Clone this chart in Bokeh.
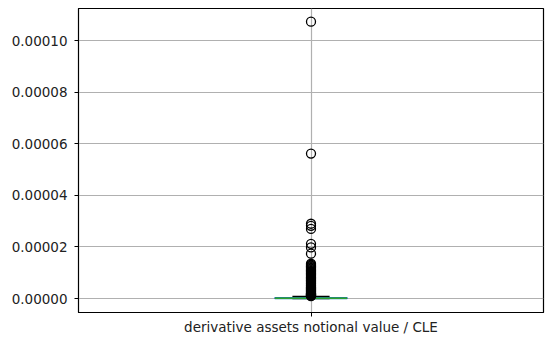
from bokeh.plotting import figure
from bokeh.models import Range1d, FixedTicker, NumeralTickFormatter, ColumnDataSource
from bokeh.embed import file_html
from bokeh.resources import INLINE

category = "derivative assets notional value / CLE"
# box statistics
q1 = [0.0]
median = [0.0000001]
q3 = [0.0000003]
whisker_low = [0.0]
whisker_high = [0.0000008]
# outliers
outliers = [
    0.0000010, 0.0000011, 0.0000012, 0.0000013, 0.0000014, 0.0000015, 0.0000016,
    0.0000017, 0.0000018, 0.0000019, 0.0000020, 0.0000022, 0.0000024, 0.0000026,
    0.0000028, 0.0000030, 0.0000032, 0.0000034, 0.0000036, 0.0000038, 0.0000040,
    0.0000042, 0.0000044, 0.0000047, 0.0000050, 0.0000053, 0.0000056, 0.0000059,
    0.0000062, 0.0000065, 0.0000068, 0.0000071, 0.0000074, 0.0000077, 0.0000080,
    0.0000083, 0.0000086, 0.0000089, 0.0000092, 0.0000095, 0.0000098, 0.0000101,
    0.0000104, 0.0000107, 0.0000110, 0.0000113, 0.0000116, 0.0000119, 0.0000122,
    0.0000125, 0.0000128, 0.0000131, 0.0000135,
    0.0000174, 0.0000198, 0.0000212, 0.0000270, 0.0000282, 0.0000290,
    0.0000562, 0.0001073,
]
y_ticks = [0.0, 0.00002, 0.00004, 0.00006, 0.00008, 0.00010]

pos = 1.0
box_w = 0.155
cap_half = 0.04

p = figure(width=545, height=343, output_backend="svg", toolbar_location=None,
           x_range=Range1d(0.5, 1.5), y_range=Range1d(-0.0000054, 0.0001124),
           min_border_left=78, min_border_right=2, min_border_top=8, min_border_bottom=31)

p.outline_line_color = "black"
p.outline_line_width = 1.2
p.background_fill_color = "white"
p.border_fill_color = "white"

# grid
for g in (p.xgrid, p.ygrid):
    g.grid_line_color = "#b0b0b0"
    g.grid_line_width = 1.2
p.xgrid.ticker = FixedTicker(ticks=[pos])
p.ygrid.ticker = FixedTicker(ticks=y_ticks)

# axes
p.xaxis.ticker = FixedTicker(ticks=[pos])
p.xaxis.major_label_overrides = {pos: category}
p.yaxis.ticker = FixedTicker(ticks=y_ticks)
p.yaxis.formatter = NumeralTickFormatter(format="0.00000")
for ax in (p.xaxis, p.yaxis):
    ax.axis_line_color = "black"
    ax.major_tick_line_color = "black"
    ax.major_tick_out = 4
    ax.major_tick_in = 0
    ax.minor_tick_out = 0
    ax.minor_tick_in = 0
    ax.major_label_text_font = "DejaVu Sans"
    ax.major_label_text_font_size = "13.5px"
    ax.major_label_text_color = "#222222"
p.yaxis.major_label_standoff = 7
p.xaxis.major_label_standoff = 2

# whiskers
p.segment(x0=[pos], y0=whisker_low, x1=[pos], y1=q1, line_color="#1f77b4", line_width=1.5)
p.segment(x0=[pos], y0=q3, x1=[pos], y1=whisker_high, line_color="#1f77b4", line_width=1.5)
# caps
p.segment(x0=[pos - cap_half], y0=whisker_low, x1=[pos + cap_half], y1=whisker_low, line_color="black", line_width=1.5)
p.segment(x0=[pos - cap_half], y0=whisker_high, x1=[pos + cap_half], y1=whisker_high, line_color="black", line_width=1.5)
# box
p.quad(left=[pos - box_w / 2], right=[pos + box_w / 2], bottom=q1, top=q3,
       fill_color=None, line_color="#1f77b4", line_width=1.5)
# median
p.segment(x0=[pos - box_w / 2], y0=median, x1=[pos + box_w / 2], y1=median, line_color="#2ca02c", line_width=1.5)
# outliers
src = ColumnDataSource(dict(x=[pos] * len(outliers), y=outliers))
p.scatter(x="x", y="y", source=src, marker="circle", size=9, fill_color=None,
          line_color="black", line_width=1.3)

open("out.html", "w").write(file_html(p, INLINE))
